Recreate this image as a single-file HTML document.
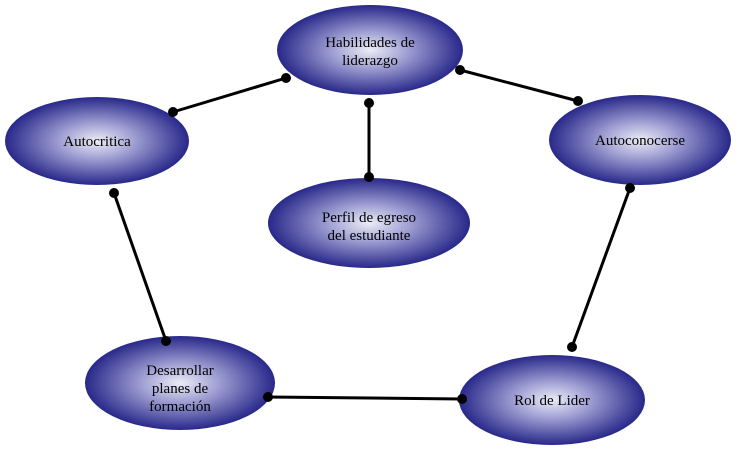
<!DOCTYPE html>
<html><head><style>body{margin:0;background:#fff}</style></head><body>
<svg width="745" height="447" xmlns="http://www.w3.org/2000/svg">
<defs><radialGradient id="g" cx="50%" cy="50%" r="50%">
<stop offset="0" stop-color="#ececf6"/><stop offset="0.4" stop-color="#a0a0d4"/><stop offset="1" stop-color="#28288a"/></radialGradient></defs>
<g stroke="#000" stroke-width="3">
<line x1="286" y1="78" x2="173" y2="112"/><line x1="460" y1="70" x2="578" y2="101"/>
<line x1="369" y1="103" x2="369" y2="177"/><line x1="114" y1="193" x2="166" y2="341"/>
<line x1="630" y1="188" x2="572" y2="347"/><line x1="268" y1="397" x2="462" y2="399"/>
</g>
<g fill="url(#g)">
<ellipse cx="370" cy="50" rx="93" ry="45"/><ellipse cx="97" cy="141" rx="92" ry="44"/>
<ellipse cx="640" cy="140" rx="91" ry="45"/><ellipse cx="369" cy="223" rx="101" ry="45"/>
<ellipse cx="180" cy="383" rx="95" ry="47"/><ellipse cx="552" cy="400" rx="93" ry="45"/>
</g>
<g fill="#000">
<circle cx="286" cy="78" r="5"/><circle cx="173" cy="112" r="5"/><circle cx="460" cy="70" r="5"/><circle cx="578" cy="101" r="5"/>
<circle cx="369" cy="103" r="5"/><circle cx="369" cy="177" r="5"/><circle cx="114" cy="193" r="5"/><circle cx="166" cy="341" r="5"/>
<circle cx="630" cy="188" r="5"/><circle cx="572" cy="347" r="5"/><circle cx="268" cy="397" r="5"/><circle cx="462" cy="399" r="5"/>
</g>
<g font-family="Liberation Serif, serif" font-size="15" fill="#000" text-anchor="middle">
<text x="370" y="47">Habilidades de</text><text x="370" y="65">liderazgo</text>
<text x="97" y="146">Autocritica</text><text x="640" y="145">Autoconocerse</text>
<text x="369" y="222">Perfil de egreso</text><text x="369" y="240">del estudiante</text>
<text x="180" y="375">Desarrollar</text><text x="180" y="393">planes de</text><text x="180" y="411">formación</text>
<text x="552" y="405">Rol de Lider</text>
</g>
</svg>
</body></html>
